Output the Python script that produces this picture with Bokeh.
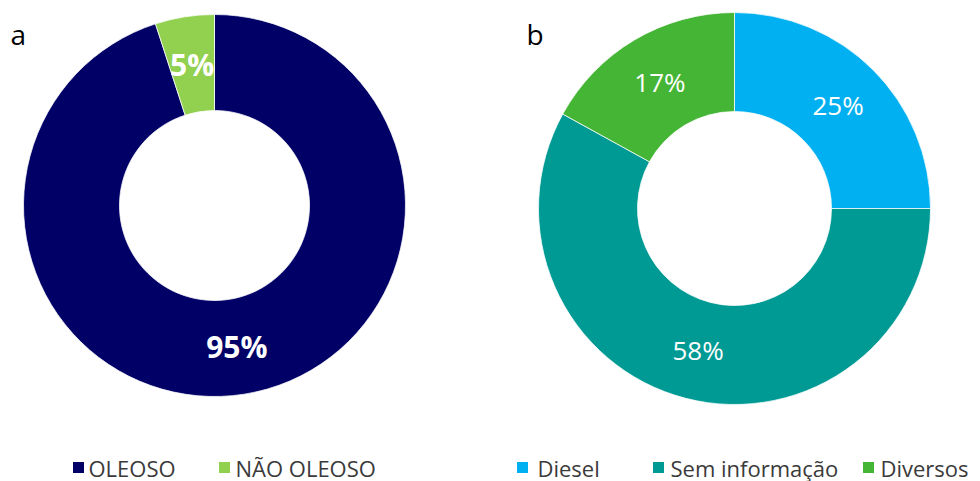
import math
from bokeh.plotting import figure
from bokeh.models import ColumnDataSource, Range1d
from bokeh.core.properties import value
from bokeh.embed import file_html
from bokeh.resources import INLINE

# ---- data ----
labels_a = ["OLEOSO", "NÃO OLEOSO"]
values_a = [95, 5]
colors_a = ["#000066", "#92D050"]

labels_b = ["Diesel", "Sem informação", "Diversos"]
values_b = [25, 58, 17]
colors_b = ["#00B0F0", "#009A94", "#45B535"]

W, H = 980, 481
FONT = "Open Sans"

p = figure(width=W, height=H, x_range=Range1d(0, W), y_range=Range1d(0, H),
           output_backend="svg", toolbar_location=None, min_border=0)
p.axis.visible = False
p.grid.visible = False
p.outline_line_color = None
p.background_fill_color = "white"
p.border_fill_color = "white"


def donut(cx, cy_screen, r_in, r_out, vals, cols, font_size, style):
    cy = H - cy_screen
    total = float(sum(vals))
    starts, ends, lx, ly, txt = [], [], [], [], []
    cum = 0.0
    for v in vals:
        f0 = cum / total
        f1 = (cum + v) / total
        starts.append(math.pi / 2 - 2 * math.pi * f1)
        ends.append(math.pi / 2 - 2 * math.pi * f0)
        mid = 2 * math.pi * (f0 + f1) / 2
        rm = (r_in + r_out) / 2
        lx.append(cx + rm * math.sin(mid))
        ly.append(cy + rm * math.cos(mid))
        txt.append(f"{round(v / total * 100)}%")
        cum += v
    src = ColumnDataSource(dict(start=starts, end=ends, color=cols))
    p.annular_wedge(x=cx, y=cy, inner_radius=r_in, outer_radius=r_out,
                    inner_radius_units="screen", outer_radius_units="screen",
                    start_angle="start", end_angle="end", fill_color="color",
                    line_color="white", line_width=0.75, source=src)
    lsrc = ColumnDataSource(dict(x=lx, y=ly, t=txt))
    p.text(x="x", y="y", text="t", source=lsrc, text_color="white",
           text_font=value(FONT), text_font_size=font_size,
           text_font_style=style, text_align="center", text_baseline="middle")


donut(214, 205, 95, 191, values_a, colors_a, "30px", "bold")
donut(734, 208, 97, 196, values_b, colors_b, "26px", "normal")

# panel letters
p.text(x=[10, 526], y=[H - 33, H - 33], text=["a", "b"], text_color="black",
       text_font=value(FONT), text_font_size="28px",
       text_align="left", text_baseline="middle")

# legends
leg_y = H - 467
leg_labels = labels_a + labels_b
leg_colors = colors_a + colors_b
sq_x = [78, 224, 522, 658, 868]
txt_x = [88, 235, 537, 670, 880]
p.scatter(x=sq_x, y=[leg_y] * 5, marker="square", size=11,
          fill_color=leg_colors, line_color=None)
p.text(x=txt_x, y=[leg_y] * 5, text=leg_labels, text_color="#3a3a3a",
       text_font=value(FONT), text_font_size="22px",
       text_align="left", text_baseline="middle")

open("out.html", "w").write(file_html(p, INLINE))
